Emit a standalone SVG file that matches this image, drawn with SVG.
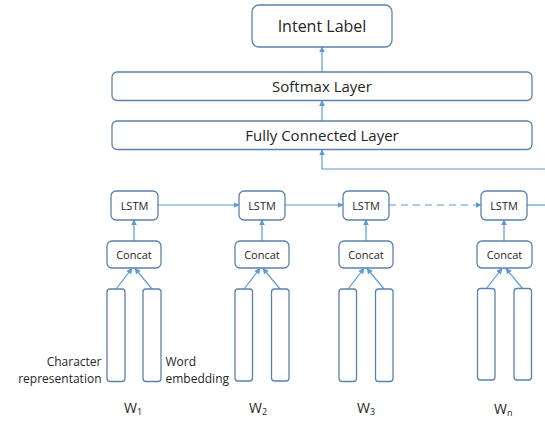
<svg xmlns="http://www.w3.org/2000/svg" width="545" height="421" viewBox="0 0 545 421">
<defs>
<marker id="ah" viewBox="0 0 10 10" refX="9" refY="5" markerWidth="6" markerHeight="6" markerUnits="userSpaceOnUse" orient="auto">
<path d="M0,0 L10,5 L0,10 z" fill="#5B9BD5"/>
</marker>
<style>
.box{fill:#fff;stroke:#5A82AE;stroke-width:1.3}
.c{fill:none;stroke:#5B9BD5;stroke-width:1.2;marker-end:url(#ah)}
.cn{fill:none;stroke:#5B9BD5;stroke-width:1.2}
text{font-family:"Open Sans","Liberation Sans",sans-serif;fill:#262626}
.m{text-anchor:middle}
</style>
</defs>
<rect width="545" height="421" fill="#fff"/>
<g id="connectors">
<path class="c" d="M322,72 L322,47"/>
<path class="c" d="M322,121 L322,100.5"/>
<path class="c" d="M545,169 L322,169 L322,150"/>
<path class="c" d="M158,205 L239,205"/>
<path class="c" d="M285,205 L343,205"/>
<path class="c" d="M389,205 L481,205" stroke-dasharray="7,5"/>
<path class="cn" d="M527,205 L545,205"/>
<path class="c" d="M134,241 L134,220"/>
<path class="c" d="M262,241 L262,220"/>
<path class="c" d="M366,241 L366,220"/>
<path class="c" d="M504,241 L504,220"/>
<path class="c" d="M116,289 L132,268.5"/>
<path class="c" d="M152,289 L135,268.5"/>
<path class="c" d="M244,289 L260,268.5"/>
<path class="c" d="M280,289 L263,268.5"/>
<path class="c" d="M348,289 L364,268.5"/>
<path class="c" d="M384,289 L367,268.5"/>
<path class="c" d="M486,289 L502,268.5"/>
<path class="c" d="M523,289 L506,268.5"/>
</g>
<g id="intent"><rect class="box" x="252" y="5" width="140" height="42" rx="7"/><text class="m" x="322" y="32" font-size="16">Intent Label</text></g>
<g id="softmax"><rect class="box" x="112" y="72" width="420" height="28.5" rx="5"/><text class="m" x="322" y="92" font-size="15">Softmax Layer</text></g>
<g id="fc"><rect class="box" x="112" y="121" width="420" height="28.5" rx="5"/><text class="m" x="322" y="141" font-size="15">Fully Connected Layer</text></g>
<g id="lstm1"><rect class="box" x="111" y="191" width="47" height="29" rx="5"/><text class="m" x="134.5" y="209.5" font-size="11">LSTM</text></g>
<g id="lstm2"><rect class="box" x="239" y="191" width="46" height="29" rx="5"/><text class="m" x="262" y="209.5" font-size="11">LSTM</text></g>
<g id="lstm3"><rect class="box" x="343" y="191" width="46" height="29" rx="5"/><text class="m" x="366" y="209.5" font-size="11">LSTM</text></g>
<g id="lstm4"><rect class="box" x="481" y="191" width="46" height="29" rx="5"/><text class="m" x="504" y="209.5" font-size="11">LSTM</text></g>
<g id="concat1"><rect class="box" x="107" y="241" width="54" height="27" rx="5"/><text class="m" x="134" y="258.5" font-size="11">Concat</text></g>
<g id="concat2"><rect class="box" x="235" y="241" width="54" height="27" rx="5"/><text class="m" x="262" y="258.5" font-size="11">Concat</text></g>
<g id="concat3"><rect class="box" x="339" y="241" width="54" height="27" rx="5"/><text class="m" x="366" y="258.5" font-size="11">Concat</text></g>
<g id="concat4"><rect class="box" x="477" y="241" width="55" height="27" rx="5"/><text class="m" x="504.5" y="258.5" font-size="11">Concat</text></g>
<g id="w1">
<rect class="box" x="107" y="289" width="18" height="92.5" rx="3"/>
<rect class="box" x="143" y="289" width="18" height="92.5" rx="3"/>
<text x="101.5" y="366" font-size="12" text-anchor="end">Character</text>
<text x="101.5" y="382.5" font-size="12" text-anchor="end">representation</text>
<text x="165.5" y="365.5" font-size="12">Word</text>
<text x="165.5" y="382.5" font-size="12">embedding</text>
<text x="124" y="413" font-size="14">W<tspan font-size="9" dy="2">1</tspan></text>
</g>
<g id="w2">
<rect class="box" x="235" y="289" width="17.5" height="92" rx="3"/>
<rect class="box" x="271.5" y="289" width="17.5" height="92" rx="3"/>
<text x="249" y="413" font-size="14">W<tspan font-size="9" dy="2">2</tspan></text>
</g>
<g id="w3">
<rect class="box" x="339" y="289" width="17.5" height="92.5" rx="3"/>
<rect class="box" x="375.5" y="289" width="17.5" height="92.5" rx="3"/>
<text x="357" y="413" font-size="14">W<tspan font-size="9" dy="2">3</tspan></text>
</g>
<g id="wn">
<rect class="box" x="477.5" y="288.5" width="17.5" height="91.5" rx="3"/>
<rect class="box" x="514" y="288.5" width="17.5" height="91.5" rx="3"/>
<text x="494" y="414" font-size="14">W<tspan font-size="9" dy="2">n</tspan></text>
</g>
</svg>
